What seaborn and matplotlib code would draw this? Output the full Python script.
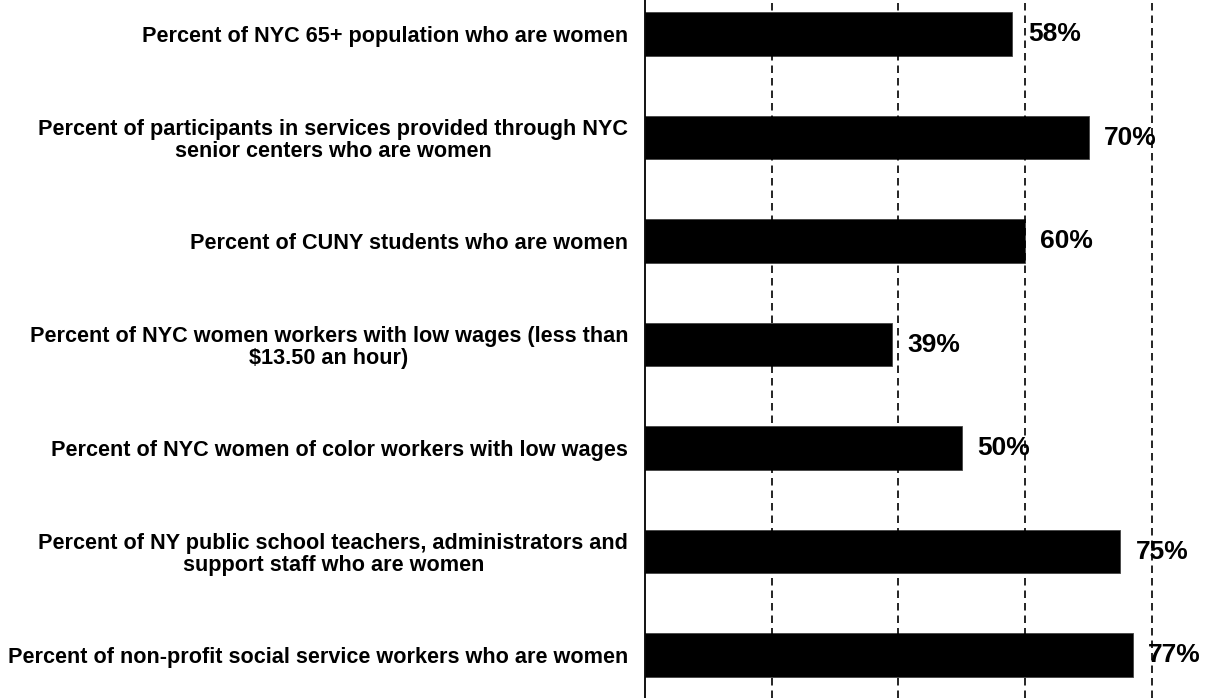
import matplotlib
matplotlib.use("Agg")
import matplotlib.pyplot as plt
import pandas as pd
import seaborn as sns

# values
categories = [
    "Percent of NYC 65+ population who are women",
    "Percent of participants in services provided through NYC\nsenior centers who are women",
    "Percent of CUNY students who are women",
    "Percent of NYC women workers with low wages (less than\n\\$13.50 an hour)",
    "Percent of NYC women of color workers with low wages",
    "Percent of NY public school teachers, administrators and\nsupport staff who are women",
    "Percent of non-profit social service workers who are women",
]
values = [58, 70, 60, 39, 50, 75, 77]
value_labels = ["58%", "70%", "60%", "39%", "50%", "75%", "77%"]
grid_ticks = [20, 40, 60, 80]

sns.set_style("white")
plt.rcParams["font.family"] = ["Liberation Sans", "DejaVu Sans"]
plt.rcParams["font.weight"] = "bold"
plt.rcParams["text.color"] = "black"
plt.rcParams["ytick.color"] = "black"

df = pd.DataFrame({"category": categories, "value": values})

fig = plt.figure(figsize=(12.07, 6.98), dpi=100)
ax = fig.add_axes([0.5344, 0.0, 0.4656, 1.0])

sns.barplot(data=df, x="value", y="category", color="black", width=0.42,
            saturation=1, ax=ax, edgecolor="#444444", linewidth=0.6)

ax.set_xlim(0, 88.7)
ax.set_ylim(6.415, -0.33)
ax.set_xlabel("")
ax.set_ylabel("")

ax.set_xticks(grid_ticks)
ax.set_xticklabels([])
ax.tick_params(axis="x", length=0)
ax.tick_params(axis="y", length=0, pad=12, colors="black")
ax.xaxis.grid(True, color="black", linestyle=(0, (4.5, 3)), linewidth=1.2)
ax.set_axisbelow(False)

for lab in ax.get_yticklabels():
    lab.set_fontsize(15.6)
    lab.set_fontweight("bold")
    lab.set_color("black")
    lab.set_multialignment("center")
    lab.set_linespacing(1.08)

ax.bar_label(ax.containers[0], labels=value_labels, padding=11,
             fontsize=19, fontweight="bold", color="black")

for side in ["top", "right", "bottom"]:
    ax.spines[side].set_visible(False)
ax.spines["left"].set_color("black")
ax.spines["left"].set_linewidth(1.3)

fig.savefig("out.png", dpi=100)
